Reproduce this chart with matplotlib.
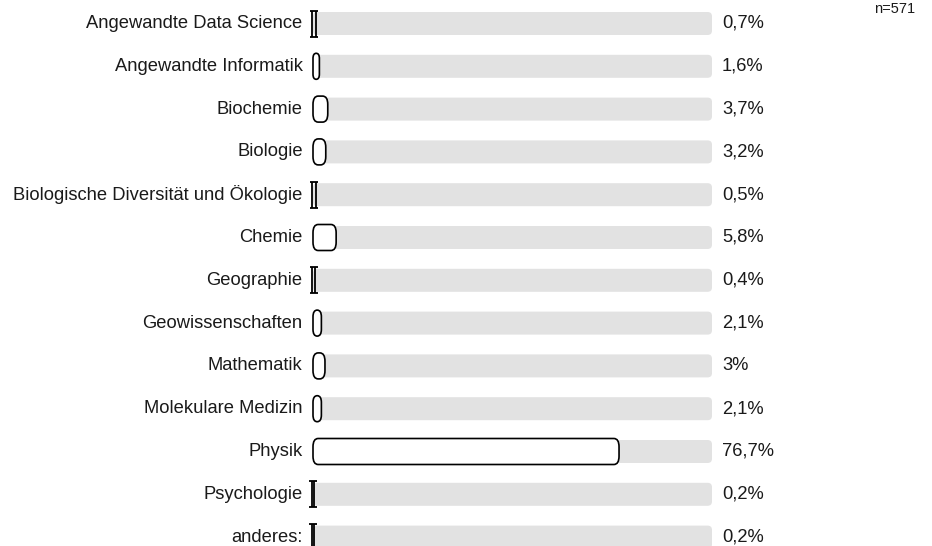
import matplotlib.pyplot as plt
from matplotlib.patches import FancyBboxPatch, PathPatch
from matplotlib.path import Path

plt.rcParams['font.family'] = ['Liberation Sans', 'DejaVu Sans']

categories = ['Angewandte Data Science', 'Angewandte Informatik', 'Biochemie', 'Biologie',
              'Biologische Diversität und Ökologie', 'Chemie', 'Geographie', 'Geowissenschaften',
              'Mathematik', 'Molekulare Medizin', 'Physik', 'Psychologie', 'anderes:']
values = [0.7, 1.6, 3.7, 3.2, 0.5, 5.8, 0.4, 2.1, 3.0, 2.1, 76.7, 0.2, 0.2]
labels = ['0,7%', '1,6%', '3,7%', '3,2%', '0,5%', '5,8%', '0,4%', '2,1%', '3%', '2,1%',
          '76,7%', '0,2%', '0,2%']
n_total = 571

W, H = 932, 546
fig = plt.figure(figsize=(W / 100, H / 100), dpi=100)
ax = fig.add_axes([313 / W, 0, 399 / W, 1])

row0, step = 23.5, 42.8
ax.set_xlim(0, 100)
ax.set_ylim((H - row0) / step, -row0 / step)
ax.axis('off')

# y units per x unit (pixels)
aspect = (399 / 100) / step
txt = '#1a1a1a'

for i, (cat, v, lab) in enumerate(zip(categories, values, labels)):
    th = 23 / step
    track = FancyBboxPatch((0, i - th / 2), 100, th,
                           boxstyle='round,pad=0,rounding_size=1.1',
                           mutation_aspect=aspect, fc='#e2e2e2', ec='none', zorder=1)
    ax.add_patch(track)
    bh = 26 / step
    y0, y1 = i - bh / 2, i + bh / 2
    if v < 1:
        # very thin bar: drawn as an I-beam like in the original
        cx, c = v / 2, 1.0
        verts = [(cx - c, y0), (cx + c, y0), (cx - v / 2 - 0.15, y0), (cx - v / 2 - 0.15, y1),
                 (cx + v / 2 + 0.15, y0), (cx + v / 2 + 0.15, y1),
                 (cx - c, y1), (cx + c, y1)]
        codes = [Path.MOVETO, Path.LINETO] * 4
        ax.add_patch(PathPatch(Path(verts, codes), fc='none', ec='black', lw=1.3,
                               zorder=2, clip_on=False))
    else:
        r = min(1.3, v / 2)
        bar = FancyBboxPatch((0, y0), v, bh,
                             boxstyle=f'round,pad=0,rounding_size={r}',
                             mutation_aspect=aspect * 1.6, fc='white', ec='black',
                             lw=1.2, zorder=2, clip_on=False)
        ax.add_patch(bar)
    ax.text(-2.6, i, cat, ha='right', va='center', fontsize=13.2, color=txt)
    ax.text(102.5, i, lab, ha='left', va='center', fontsize=13.2, color=txt)

fig.text(895 / W, 1 - 9 / H, f'n={n_total}', ha='center', va='center', fontsize=10.5,
         color=txt)

fig.savefig('out.png', dpi=100)
